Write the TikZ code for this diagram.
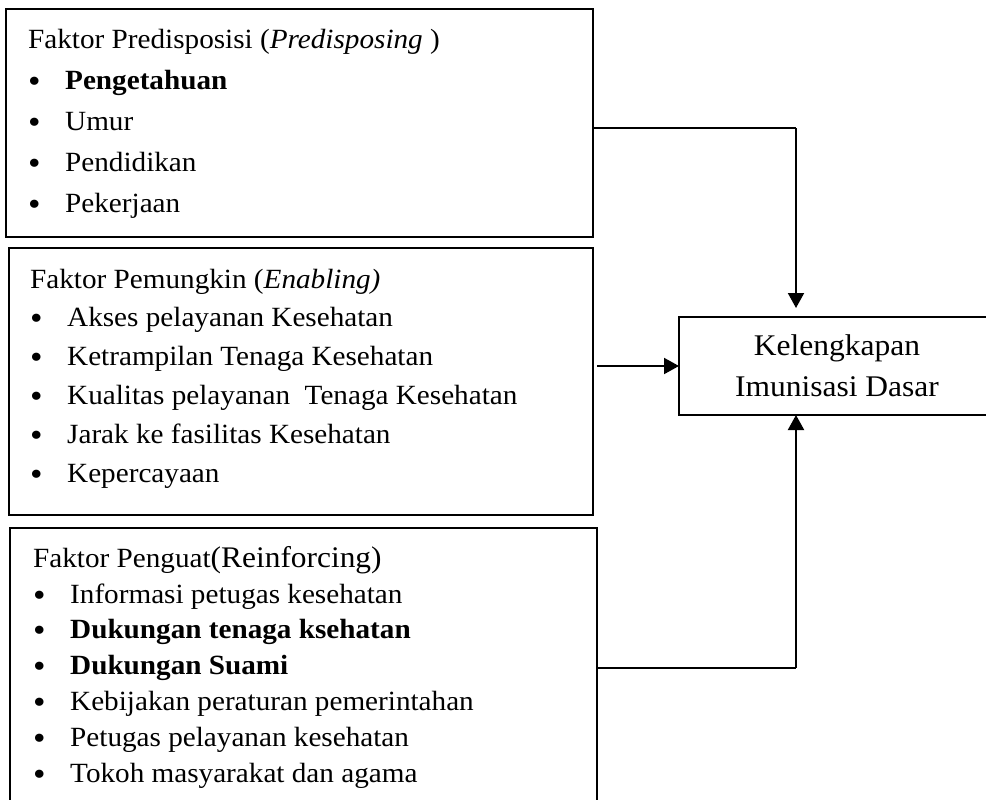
\documentclass[tikz,border=0pt]{standalone}
\usepackage{fontspec}
\setmainfont{Liberation Serif}[FakeStretch=1.05]
\usetikzlibrary{arrows.meta, positioning}
\newcommand{\butir}[1]{\makebox[37pt][l]{\raisebox{-3pt}{\fontsize{34}{34}\selectfont\textbullet}}#1}

\begin{document}
\begin{tikzpicture}[x=1pt, y=-1pt,
    faktor/.style = {draw, line width=1.3pt, anchor=north west, inner sep=0pt, outer sep=0pt},
    isi/.style = {anchor=base west, align=left, inner sep=0pt, font=\fontsize{27.8}{#1}\selectfont},
    tujuan/.style = {draw, line width=1.8pt, anchor=north west, align=center, inner sep=0pt, outer sep=0pt, font=\fontsize{30}{41}\selectfont},
    garis/.style = {line width=1.3pt},
    panah/.style = {line width=2pt, -{Triangle[length=15pt,width=16pt]}}]
  \useasboundingbox (0,0) rectangle (986,800);

  % kotak faktor
  \node[faktor, minimum width=587pt, minimum height=228pt] (pre) at (6,9)   {};
  \node[faktor, minimum width=584pt, minimum height=267pt] (pem) at (9,248) {};
  \node[faktor, minimum width=587pt, minimum height=280pt] (pen) at (10,528) {};
  \node[tujuan, minimum width=316pt, minimum height=98pt] (imun) at (679,317) {Kelengkapan\\Imunisasi Dasar};

  % isi kotak (base = baris terakhir)
  \node[isi=41] (pre-t) at (28,212) {Faktor Predisposisi (\textit{Predisposing} )\\
    \butir{\textbf{Pengetahuan}}\\
    \butir{Umur}\\
    \butir{Pendidikan}\\
    \butir{Pekerjaan}};
  \node[isi=38.8] (pem-t) at (30,482) {Faktor Pemungkin (\textit{Enabling)}\\
    \butir{Akses pelayanan Kesehatan}\\
    \butir{Ketrampilan Tenaga Kesehatan}\\
    \butir{Kualitas pelayanan\ \ Tenaga Kesehatan}\\
    \butir{Jarak ke fasilitas Kesehatan}\\
    \butir{Kepercayaan}};
  \node[isi=35.8] (pen-t) at (33,782) {Faktor Penguat{\fontsize{29.9}{35.8}\selectfont(Reinforcing)}\\
    \butir{Informasi petugas kesehatan}\\
    \butir{\textbf{Dukungan tenaga ksehatan}}\\
    \butir{\textbf{Dukungan Suami}}\\
    \butir{Kebijakan peraturan pemerintahan}\\
    \butir{Petugas pelayanan kesehatan}\\
    \butir{Tokoh masyarakat dan agama}};

  % penghubung
  \coordinate (b1) at (796,128);
  \coordinate (b3) at (796,668);
  \draw[garis] (pre.east |- b1) -- (b1);
  \draw[panah, shorten >=9pt] (b1) -- (b1 |- imun.north);
  \draw[panah] ([xshift=4pt]pem.east |- imun.west) -- (imun.west);
  \draw[garis] (pen.east |- b3) -- (b3);
  \draw[panah] (b3) -- (b3 |- imun.south);
\end{tikzpicture}
\end{document}
